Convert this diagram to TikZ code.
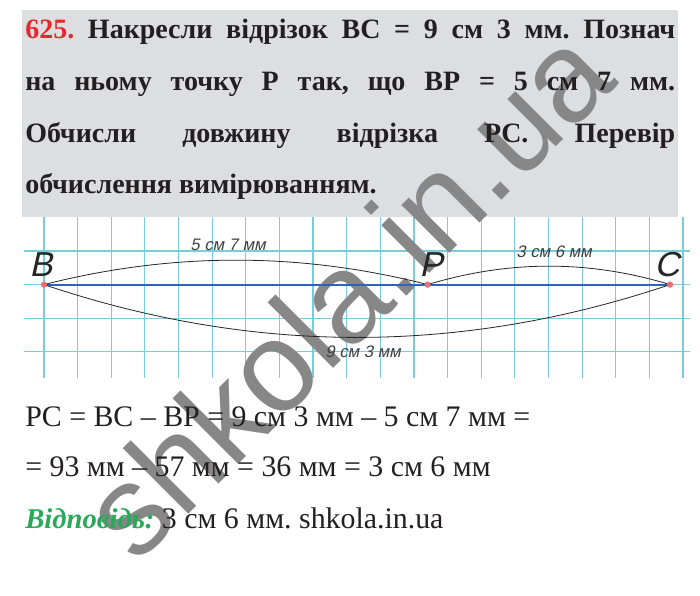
\documentclass[tikz,border=0pt]{standalone}
\usepackage{fontspec}
\setmainfont{Liberation Serif}
\newfontfamily\sansf{Liberation Sans}
\newfontfamily\gostf[FakeSlant=0.22]{Liberation Sans}
\frenchspacing
\definecolor{hdrgray}{RGB}{221,222,224}
\definecolor{txt}{RGB}{35,31,32}
\definecolor{numred}{RGB}{232,38,43}
\definecolor{gridc}{RGB}{120,204,222}
\definecolor{segblue}{RGB}{48,98,188}
\definecolor{ptred}{RGB}{240,110,110}
\definecolor{ansgreen}{RGB}{40,170,90}
\definecolor{wmgray}{RGB}{135,135,135}
\tikzset{
  gridline/.style={draw=gridc, line width=0.85pt},
  arcline/.style={draw=black!85, line width=0.6pt},
  seg/.style={draw=segblue, line width=1.5pt},
  pt/.style={circle, fill=ptred, inner sep=0pt, minimum size=4.5pt},
  hdr/.style={anchor=base west, inner sep=0pt, text=txt, font=\fontsize{21}{25}\selectfont\bfseries},
  body/.style={anchor=base west, inner sep=0pt, text=txt, font=\fontsize{22.4}{26}\selectfont},
  ptlabel/.style={inner sep=0pt, text=black!85, font=\gostf\fontsize{26}{28}\selectfont},
  dimlabel/.style={inner sep=0pt, text=black!75, font=\gostf\fontsize{12.5}{14}\selectfont},
  wm/.style={inner sep=0pt, text=wmgray, font=\sansf\fontsize{96}{104}\selectfont}
}
\begin{document}
\begin{tikzpicture}[x=0.75pt,y=-0.75pt]
\useasboundingbox (0,0) rectangle (700,596);
\fill[white] (0,0) rectangle (700,596);
\fill[hdrgray] (21.7,10) rectangle (678,217);
% grid
\foreach \k in {0,...,19} \draw[gridline] ({44+33.63*\k},217) -- ({44+33.63*\k},378);
\foreach \yy in {251,284.6,318.2,351.8} \draw[gridline] (24,\yy) -- (690,\yy);
% watermark
\node[wm, rotate=45] (wmark) at (346,292) {shkola.in.ua};
% header text
\node[hdr] (h1) at (25,38) {\makebox[487.5pt][s]{\textcolor{numred}{625.} Накресли відрізок BC = 9 см 3 мм. Познач}};
\node[hdr] (h2) at (25,90) {\makebox[487.5pt][s]{на ньому точку P так, що BP = 5 см 7 мм.}};
\node[hdr] (h3) at (25,142) {\makebox[487.5pt][s]{Обчисли довжину відрізка PC. Перевір}};
\node[hdr] (h4) at (25,193) {обчислення вимірюванням.};
% points
\node[pt] (B) at (44,284.6) {};
\node[pt] (P) at (427.7,284.6) {};
\node[pt] (C) at (670,284.6) {};
\draw[seg] (B.center) -- (C.center);
\draw[arcline] (B.center) .. controls (172,252) and (300,252) .. (P.center);
\draw[arcline] (P.center) .. controls (509,260) and (589,260) .. (C.center);
\draw[arcline] (B.center) .. controls (253,355) and (461,355) .. (C.center);
\node[pt] at (B) {};
\node[pt] at (P) {};
\node[pt] at (C) {};
% labels
\node[ptlabel] (lB) at (41,265) {B};
\node[ptlabel] (lP) at (431,265) {P};
\node[ptlabel] (lC) at (667,265) {C};
\node[dimlabel] (d1) at (228,245) {5 см 7 мм};
\node[dimlabel] (d2) at (554,252) {3 см 6 мм};
\node[dimlabel] (d3) at (363,352) {9 см 3 мм};
% bottom text
\node[body] (b1) at (25,426) {PC = BC – BP = 9 см 3 мм – 5 см 7 мм =};
\node[body] (b2) at (25,476) {= 93 мм – 57 мм = 36 мм = 3 см 6 мм};
\node[body] (b3) at (25,528) {\textcolor{ansgreen}{\fontsize{21.5}{26}\selectfont\bfseries\itshape Відповідь:} 3 см 6 мм. shkola.in.ua};
\end{tikzpicture}
\end{document}
